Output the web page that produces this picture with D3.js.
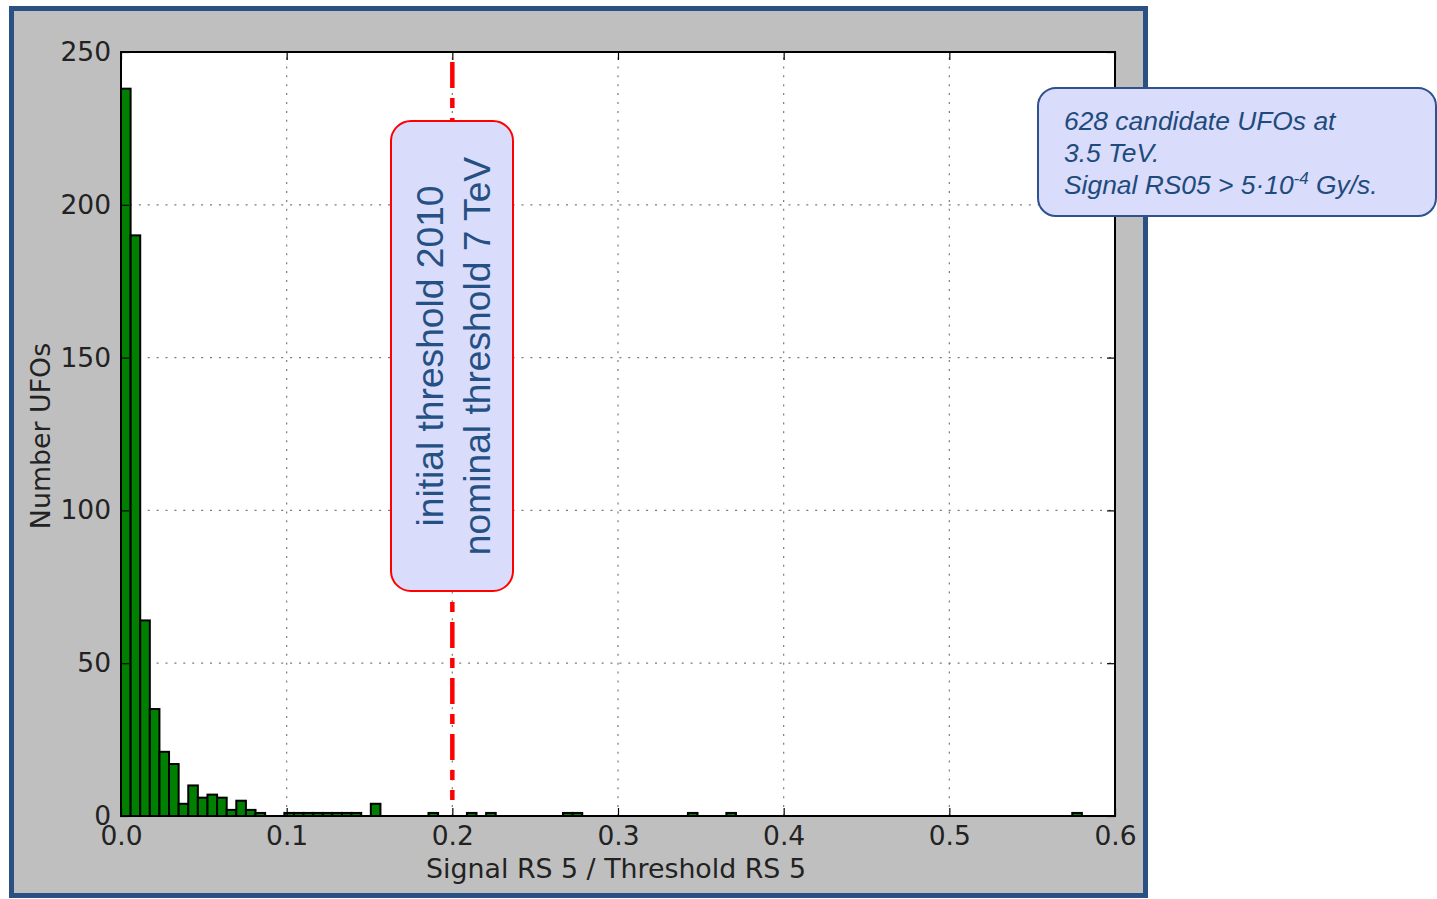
<!DOCTYPE html>
<html>
<head>
<meta charset="utf-8">
<script src="https://cdn.jsdelivr.net/npm/d3@7"></script>
<style>
  html, body { margin: 0; padding: 0; background: #ffffff; }
  svg { display: block; }
</style>
</head>
<body>
<svg id="chart" width="1437" height="899"></svg>
<script>
// Histogram of UFO signal ratios (RS 5 signal / RS 5 threshold), 100 equal bins
const binWidth = 0.0058;
const binCounts = [
  238, 190, 64, 35, 21, 17, 4, 10, 6, 7,
  6, 2, 5, 2, 1, 0, 0, 1, 1, 1,
  1, 1, 1, 1, 1, 0, 4, 0, 0, 0,
  0, 0, 1, 0, 0, 0, 1, 0, 1, 0,
  0, 0, 0, 0, 0, 0, 1, 1, 0, 0,
  0, 0, 0, 0, 0, 0, 0, 0, 0, 1,
  0, 0, 0, 1, 0, 0, 0, 0, 0, 0,
  0, 0, 0, 0, 0, 0, 0, 0, 0, 0,
  0, 0, 0, 0, 0, 0, 0, 0, 0, 0,
  0, 0, 0, 0, 0, 0, 0, 0, 0, 1
];
const xTicks = [0.0, 0.1, 0.2, 0.3, 0.4, 0.5, 0.6];
const yTicks = [0, 50, 100, 150, 200, 250];
const thresholdValue = 0.2;
const thresholdLines = ["initial threshold 2010", "nominal threshold 7 TeV"];
const noteLines = ["628 candidate UFOs at", "3.5 TeV."];

const svg = d3.select("#chart");
const plot = { left: 121, top: 52, right: 1115, bottom: 816 };

const x = d3.scaleLinear().domain([0, 0.6]).range([plot.left, plot.right]);
const y = d3.scaleLinear().domain([0, 250]).range([plot.bottom, plot.top]);

// Figure panel
svg.append("rect")
  .attr("x", 11.5).attr("y", 8.5)
  .attr("width", 1134).attr("height", 887)
  .attr("fill", "#bfbfbf")
  .attr("stroke", "#2b5084").attr("stroke-width", 5);

// Axes background
svg.append("rect")
  .attr("x", plot.left).attr("y", plot.top)
  .attr("width", plot.right - plot.left).attr("height", plot.bottom - plot.top)
  .attr("fill", "#ffffff");

// Dotted grid
const grid = svg.append("g").attr("stroke", "#7a7a7a").attr("stroke-width", 1.2)
  .attr("stroke-dasharray", "2,6.9");
grid.selectAll("line.gx").data(xTicks.slice(1, -1)).join("line")
  .attr("x1", d => x(d)).attr("x2", d => x(d))
  .attr("y1", plot.bottom).attr("y2", plot.top);
grid.selectAll("line.gy").data(yTicks.slice(1, -1)).join("line")
  .attr("x1", plot.left).attr("x2", plot.right)
  .attr("y1", d => y(d)).attr("y2", d => y(d));

// Histogram bars
const bins = binCounts.map((c, i) => ({ x0: i * binWidth, x1: (i + 1) * binWidth, count: c }))
  .filter(b => b.count > 0);
svg.append("g").selectAll("rect").data(bins).join("rect")
  .attr("x", d => x(d.x0))
  .attr("y", d => y(d.count))
  .attr("width", d => x(d.x1) - x(d.x0))
  .attr("height", d => y(0) - y(d.count))
  .attr("fill", "#008000")
  .attr("stroke", "#000000").attr("stroke-width", 2);

// Threshold marker
svg.append("line")
  .attr("x1", x(thresholdValue)).attr("x2", x(thresholdValue))
  .attr("y1", 62).attr("y2", 800)
  .attr("stroke", "#ff0000").attr("stroke-width", 4.5)
  .attr("stroke-dasharray", "26,10,10,10");

// Ticks pointing inward on all four sides
const tickLen = 8;
const axisFont = "'DejaVu Sans', sans-serif";
const xAxisB = d3.axisBottom(x).tickValues(xTicks).tickSizeInner(-tickLen).tickSizeOuter(0)
  .tickPadding(10).tickFormat(d3.format(".1f"));
const xAxisT = d3.axisTop(x).tickValues(xTicks).tickSizeInner(-tickLen).tickSizeOuter(0)
  .tickFormat("");
const yAxisL = d3.axisLeft(y).tickValues(yTicks).tickSizeInner(-tickLen).tickSizeOuter(0)
  .tickPadding(10);
const yAxisR = d3.axisRight(y).tickValues(yTicks).tickSizeInner(-tickLen).tickSizeOuter(0)
  .tickFormat("");

function styleAxis(g) {
  g.select(".domain").remove();
  g.selectAll(".tick line").attr("stroke", "#000").attr("stroke-width", 1.2);
  g.selectAll(".tick text").attr("fill", "#222").style("font-family", axisFont).style("font-size", "26.5px");
}
svg.append("g").attr("transform", `translate(0,${plot.bottom})`).call(xAxisB).call(styleAxis);
svg.append("g").attr("transform", `translate(0,${plot.top})`).call(xAxisT).call(styleAxis);
svg.append("g").attr("transform", `translate(${plot.left},0)`).call(yAxisL).call(styleAxis);
svg.append("g").attr("transform", `translate(${plot.right},0)`).call(yAxisR).call(styleAxis);

// Frame
svg.append("rect")
  .attr("x", plot.left).attr("y", plot.top)
  .attr("width", plot.right - plot.left).attr("height", plot.bottom - plot.top)
  .attr("fill", "none").attr("stroke", "#000").attr("stroke-width", 2);

// Axis titles
svg.append("text")
  .attr("x", (plot.left + plot.right) / 2 - 2).attr("y", 878)
  .attr("text-anchor", "middle")
  .style("font-family", axisFont).style("font-size", "26.8px").attr("fill", "#222")
  .text("Signal RS 5 / Threshold RS 5");
svg.append("text")
  .attr("transform", `translate(50,${(plot.top + plot.bottom) / 2 + 2}) rotate(-90)`)
  .attr("text-anchor", "middle")
  .style("font-family", axisFont).style("font-size", "26.8px").attr("fill", "#222")
  .text("Number UFOs");

// Threshold callout
const callout = svg.append("g");
callout.append("rect")
  .attr("x", 391).attr("y", 121).attr("width", 122).attr("height", 470)
  .attr("rx", 20).attr("ry", 20)
  .attr("fill", "#d9dcfa").attr("stroke", "#ff0000").attr("stroke-width", 2);
callout.selectAll("text").data(thresholdLines).join("text")
  .attr("transform", (d, i) => `translate(${443 + i * 47},356) rotate(-90)`)
  .attr("text-anchor", "middle")
  .style("font-family", "'Liberation Sans', Arial, sans-serif").style("font-size", "37.2px")
  .attr("fill", "#255083")
  .text(d => d);

// Summary note
const note = svg.append("g");
note.append("rect")
  .attr("x", 1038).attr("y", 88).attr("width", 398).attr("height", 128)
  .attr("rx", 18).attr("ry", 18)
  .attr("fill", "#d9dcfa").attr("stroke", "#2f528f").attr("stroke-width", 2);
const noteText = note.append("text")
  .style("font-family", "'Liberation Sans', Arial, sans-serif").style("font-size", "26.4px")
  .style("font-style", "italic").attr("fill", "#1f4a7c");
noteLines.forEach((line, i) => {
  noteText.append("tspan").attr("x", 1064).attr("y", 130 + i * 32).text(line);
});
const last = noteText.append("tspan").attr("x", 1064).attr("y", 194);
last.append("tspan").text("Signal RS05 > 5·10");
last.append("tspan").attr("dy", -10).style("font-size", "17px").text("-4");
last.append("tspan").attr("dy", 10).text(" Gy/s.");
</script>
</body>
</html>
